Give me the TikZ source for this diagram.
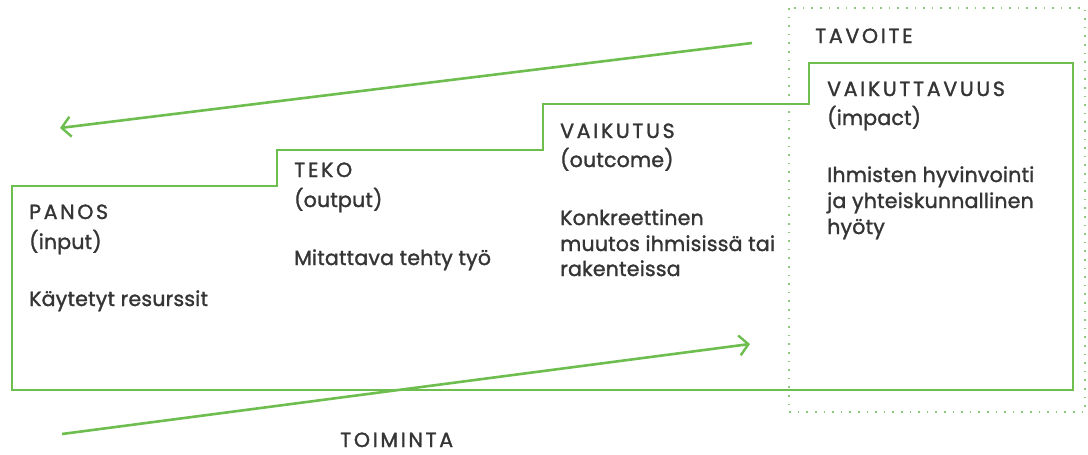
\documentclass[tikz,border=0pt]{standalone}
\usepackage{fontspec}
\setmainfont{Poppins}[FakeBold=1.5,LetterSpace=1]
\newfontfamily\capsfont{Poppins}[LetterSpace=13,FakeBold=1.5]
\usetikzlibrary{arrows.meta}
\definecolor{lgreen}{HTML}{6DBE4F}
\definecolor{dgreen}{HTML}{8CC97A}
\definecolor{txt}{HTML}{353535}
\tikzset{
  stair/.style={draw=lgreen, line width=2.4pt, line join=miter},
  goalbox/.style={draw=dgreen, line width=2pt, dash pattern=on 1.6pt off 7pt},
  flow/.style={draw=lgreen, line width=2.6pt, -{Straight Barb[length=9pt,width=20pt,line width=2.4pt]}},
  head/.style={anchor=base west, inner sep=0pt, text=txt, font=\capsfont\fontsize{20.5}{24}\selectfont},
  sub/.style={anchor=base west, inner sep=0pt, text=txt, font=\fontsize{20.5}{24}\selectfont},
  body/.style={anchor=base west, inner sep=0pt, text=txt, font=\fontsize{20.5}{24}\selectfont},
}
\begin{document}
\begin{tikzpicture}[x=1pt,y=-1pt]
\useasboundingbox (0,0) rectangle (1088,455);
% goal dotted box
\draw[goalbox] (789,8) rectangle (1085,412);
% staircase outline
\draw[stair] (12,186) -- (277,186) -- (277,150) -- (543,150) -- (543,104) -- (809,104) -- (809,63) -- (1073,63) -- (1073,390) -- (12,390) -- cycle;
% arrows
\coordinate (a1s) at (752,43);
\coordinate (a1e) at (60,128);
\coordinate (a2s) at (62,434);
\coordinate (a2e) at (750,344);
\draw[flow] (a1s) -- (a1e);
\draw[flow] (a2s) -- (a2e);
% texts
\node[head] (tav) at (815,43) {TAVOITE};
\node[head] (vkv) at (827,96) {VAIKUTTAVUUS};
\node[sub] (vkvs) at (827,125) {(impact)};
\node[body] (vkv1) at (827,182) {Ihmisten hyvinvointi};
\node[body] (vkv2) at (827,208) {ja yhteiskunnallinen};
\node[body] (vkv3) at (827,234) {hyöty};
\node[head] (vk) at (560,138) {VAIKUTUS};
\node[sub] (vks) at (560,167) {(outcome)};
\node[body] (vk1) at (560,225) {Konkreettinen};
\node[body] (vk2) at (560,251) {muutos ihmisissä tai};
\node[body] (vk3) at (560,276) {rakenteissa};
\node[head] (te) at (294,177) {TEKO};
\node[sub] (tes) at (294,207) {(output)};
\node[body] (te1) at (294,265) {Mitattava tehty työ};
\node[head] (pa) at (29,219) {PANOS};
\node[sub] (pas) at (29,249) {(input)};
\node[body] (pa1) at (29,306) {Käytetyt resurssit};
\node[head] (toi) at (340,447) {TOIMINTA};
\end{tikzpicture}
\end{document}
